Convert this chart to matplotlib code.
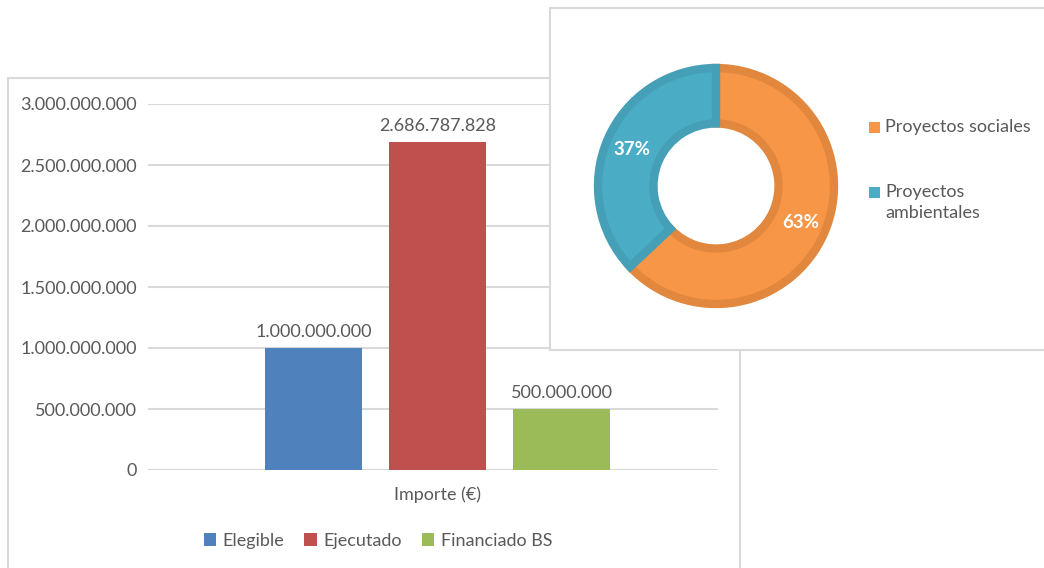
import matplotlib
matplotlib.use("Agg")
import matplotlib.pyplot as plt
from matplotlib.patches import Rectangle

# Bar chart data
bar_labels = ["Elegible", "Ejecutado", "Financiado BS"]
bar_values = [1000000000, 2686787828, 500000000]
bar_colors = ["#4F81BD", "#C0504D", "#9BBB59"]
category = "Importe (€)"
y_ticks = [0, 500000000, 1000000000, 1500000000, 2000000000, 2500000000, 3000000000]

# Donut data
pie_labels = ["Proyectos sociales", "Proyectos\nambientales"]
pie_values = [63, 37]
pie_colors = ["#F79646", "#4BACC6"]
pie_edges = ["#E2873E", "#449FB7"]

W, H = 1044, 568
TXT = "#595959"
GRID = "#D9D9D9"
FS = 13
plt.rcParams['font.family'] = ['Lato', 'DejaVu Sans']


def fx(x):
    return x / W


def fy(y):
    return 1 - y / H


def dots(v):
    return f"{int(v):,}".replace(",", ".")


fig = plt.figure(figsize=(W / 100, H / 100), dpi=100)

# frame of the bar chart
fig.patches.append(Rectangle((fx(8), fy(580)), fx(740) - fx(8), fy(78) - fy(580),
                             transform=fig.transFigure, fill=False,
                             edgecolor=GRID, linewidth=1.5, zorder=0.5))

ax = fig.add_axes([fx(148), fy(470), fx(718) - fx(148), fy(104) - fy(470)], zorder=1)
ax.set_facecolor("none")
pos = range(len(bar_values))
bars = ax.bar(pos, bar_values, width=0.78, color=bar_colors, label=bar_labels, zorder=2)
for b, v in zip(bars, bar_values):
    ax.annotate(dots(v), (b.get_x() + b.get_width() / 2, v), xytext=(0, 6),
                textcoords="offset points", ha="center", va="bottom",
                fontsize=FS, color=TXT)
ax.set_xlim(-1.335, 3.262)
ax.set_ylim(0, 3000000000)
ax.set_yticks(y_ticks)
ax.set_yticklabels([dots(t) for t in y_ticks])
ax.set_xticks([1])
ax.set_xticklabels([category])
ax.tick_params(length=0, labelsize=FS, colors=TXT)
ax.tick_params(axis="y", pad=8)
ax.tick_params(axis="x", pad=12)
for s in ax.spines.values():
    s.set_visible(False)
ax.grid(axis="y", color=GRID, linewidth=1.5)
ax.set_axisbelow(True)
leg = fig.legend(handles=bars.patches, labels=bar_labels, loc="center",
                 bbox_to_anchor=(fx(378), fy(541)), ncol=3, frameon=False,
                 fontsize=FS, handlelength=0.7, handleheight=0.7,
                 handletextpad=0.35, columnspacing=1.1)
for t in leg.get_texts():
    t.set_color(TXT)

# frame of the donut chart
fig.patches.append(Rectangle((fx(550), fy(350)), fx(1060) - fx(550), fy(8) - fy(350),
                             transform=fig.transFigure, facecolor="white",
                             edgecolor=GRID, linewidth=1.5, zorder=2))

r = 118
pax = fig.add_axes([fx(716 - r), fy(186 + r), fx(2 * r), fy(0) - fy(2 * r)], zorder=3)
wedges, _, autotexts = pax.pie(pie_values, colors=pie_colors, startangle=90,
                               counterclock=False, autopct="%d%%", pctdistance=0.78,
                               wedgeprops=dict(width=0.47, linewidth=6))
for w, ec in zip(wedges, pie_edges):
    w.set_edgecolor(ec)
for t in autotexts:
    t.set_color("white")
    t.set_fontweight("bold")
    t.set_fontsize(13.5)
pax.set_xlim(-1, 1)
pax.set_ylim(-1, 1)

for i, (lab, col) in enumerate(zip(pie_labels, pie_colors)):
    ytop = 119 + i * 65
    fig.patches.append(Rectangle((fx(869), fy(ytop + 14)), fx(11), fy(0) - fy(11),
                                 transform=fig.transFigure, facecolor=col,
                                 edgecolor="none", zorder=4))
    fig.text(fx(885), fy(ytop), lab, ha="left", va="top", fontsize=FS,
             color=TXT, linespacing=1.4, zorder=4)

fig.savefig("out.png", dpi=100)
